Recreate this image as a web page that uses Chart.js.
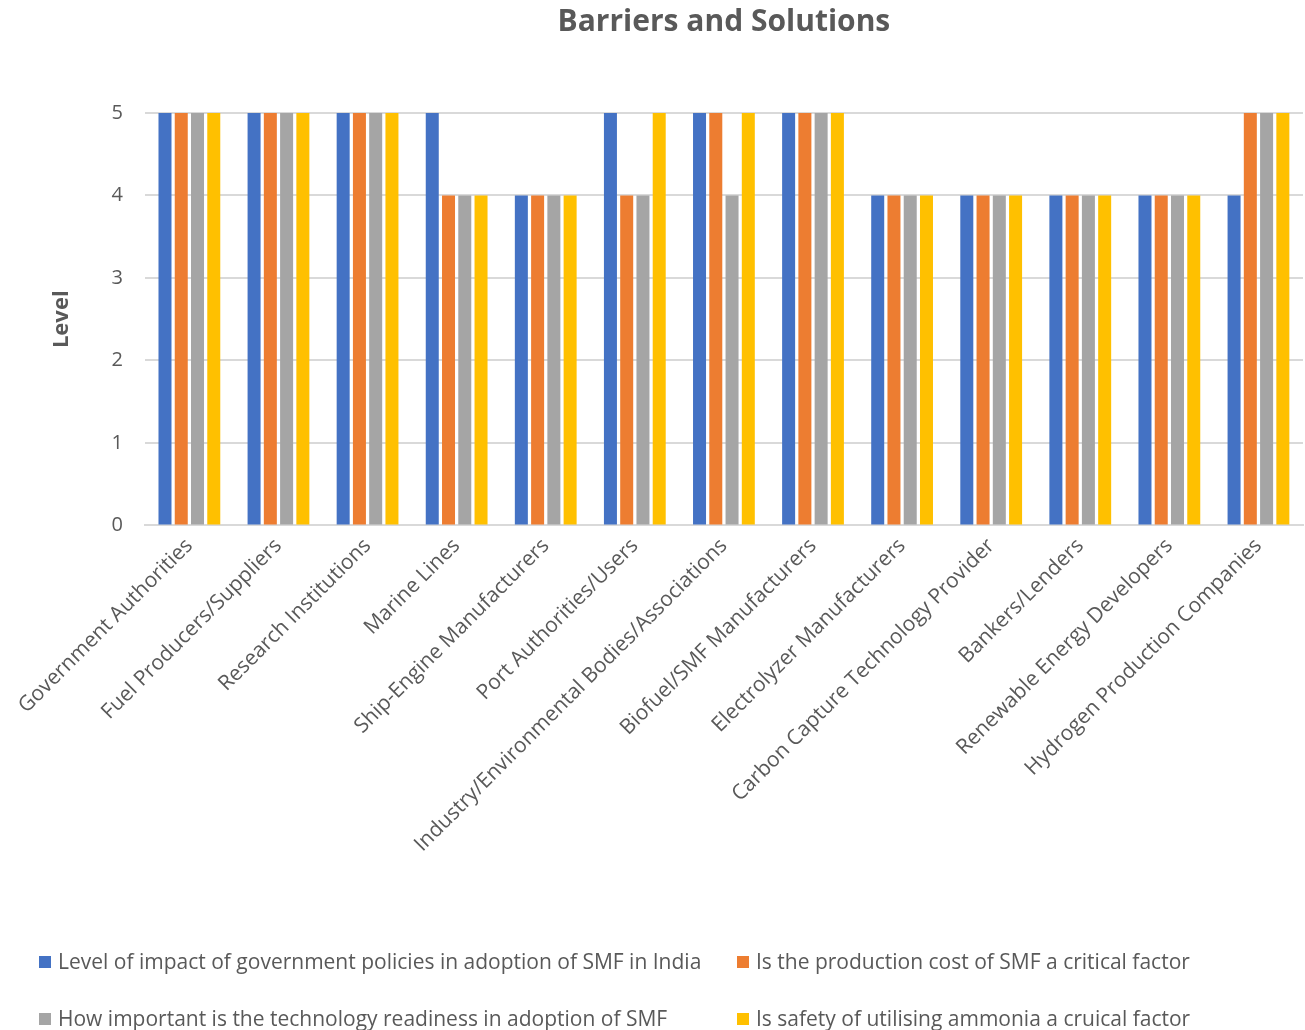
<!DOCTYPE html>
<html>
<head>
<meta charset="utf-8">
<script src="https://cdn.jsdelivr.net/npm/chart.js@4/dist/chart.umd.min.js"></script>
<style>
  html, body { margin: 0; padding: 0; background: #fff; }
  #wrap { position: relative; width: 1305px; height: 1030px; }
  #legend { position: absolute; left: 0; top: 0; width: 1305px; font-family: "Open Sans", sans-serif; font-size: 21px; color: #595959; }
  .item { position: absolute; white-space: nowrap; line-height: 26px; }
  .box { display: inline-block; width: 12px; height: 12px; margin-right: 7px; vertical-align: 1px; }
</style>
</head>
<body>
<div id="wrap">
  <canvas id="chart" width="1305" height="1030"></canvas>
  <div id="legend"></div>
</div>
<script>
var CATEGORIES = [
  'Government Authorities',
  'Fuel Producers/Suppliers',
  'Research Institutions',
  'Marine Lines',
  'Ship-Engine Manufacturers',
  'Port Authorities/Users',
  'Industry/Environmental Bodies/Associations',
  'Biofuel/SMF Manufacturers',
  'Electrolyzer Manufacturers',
  'Carbon Capture Technology Provider',
  'Bankers/Lenders',
  'Renewable Energy Developers',
  'Hydrogen Production Companies'
];
var SERIES_NAMES = [
  'Level of impact of government policies in adoption of SMF in India',
  'Is the production cost of SMF a critical factor',
  'How important is the technology readiness in adoption of SMF',
  'Is safety of utilising ammonia a cruical factor'
];
var POLICY = [5, 5, 5, 5, 4, 5, 5, 5, 4, 4, 4, 4, 4];
var COST = [5, 5, 5, 4, 4, 4, 5, 5, 4, 4, 4, 4, 5];
var READINESS = [5, 5, 5, 4, 4, 4, 4, 5, 4, 4, 4, 4, 5];
var SAFETY = [5, 5, 5, 4, 4, 5, 5, 5, 4, 4, 4, 4, 5];
var COLORS = ['#4472c4', '#ed7d31', '#a5a5a5', '#ffc000'];
var TEXT = '#595959';
var GRID = '#d9d9d9';

var values = [POLICY, COST, READINESS, SAFETY];
var datasets = values.map(function(v, i) {
  return {
    label: SERIES_NAMES[i],
    data: v,
    backgroundColor: COLORS[i],
    borderWidth: 0,
    barPercentage: 0.8,
    categoryPercentage: 0.73
  };
});

var ctx = document.getElementById('chart');
var chart = new Chart(ctx, {
  type: 'bar',
  data: { labels: CATEGORIES, datasets: datasets },
  options: {
    responsive: false,
    animation: false,
    layout: { padding: { left: 0, right: 2, top: 0, bottom: 165 } },
    plugins: {
      legend: { display: false },
      tooltip: { enabled: false },
      title: {
        display: true,
        fullSize: false,
        text: 'Barriers and Solutions',
        color: TEXT,
        font: { family: 'Open Sans', size: 30, weight: 'bold' },
        padding: { top: 4, bottom: 73 }
      }
    },
    scales: {
      x: {
        grid: { display: false, drawTicks: false },
        border: { color: GRID, width: 2 },
        ticks: {
          color: TEXT,
          font: { family: 'Open Sans', size: 21 },
          maxRotation: 45,
          minRotation: 45,
          autoSkip: false,
          padding: 8
        },
        // the first slanted label may run into the left margin, as in the original
        afterFit: function(scale) { scale.paddingLeft = 0; }
      },
      y: {
        min: 0,
        max: 5,
        grid: { color: GRID, lineWidth: 2, drawTicks: false },
        border: { display: false },
        ticks: {
          stepSize: 1,
          color: TEXT,
          font: { family: 'Open Sans', size: 20 },
          padding: 22
        },
        title: {
          display: true,
          text: 'Level',
          color: TEXT,
          font: { family: 'Open Sans', size: 22, weight: 'bold' },
          padding: { top: 49, bottom: 14 }
        }
      }
    }
  }
});

// legend in two fixed columns, like the original
var legendPos = [[39, 948], [737, 948], [39, 1005], [737, 1005]];
var legend = document.getElementById('legend');
SERIES_NAMES.forEach(function(name, i) {
  var el = document.createElement('div');
  el.className = 'item';
  el.style.left = legendPos[i][0] + 'px';
  el.style.top = legendPos[i][1] + 'px';
  el.innerHTML = '<span class="box" style="background:' + COLORS[i] + '"></span>' + name;
  legend.appendChild(el);
});
</script>
</body>
</html>
